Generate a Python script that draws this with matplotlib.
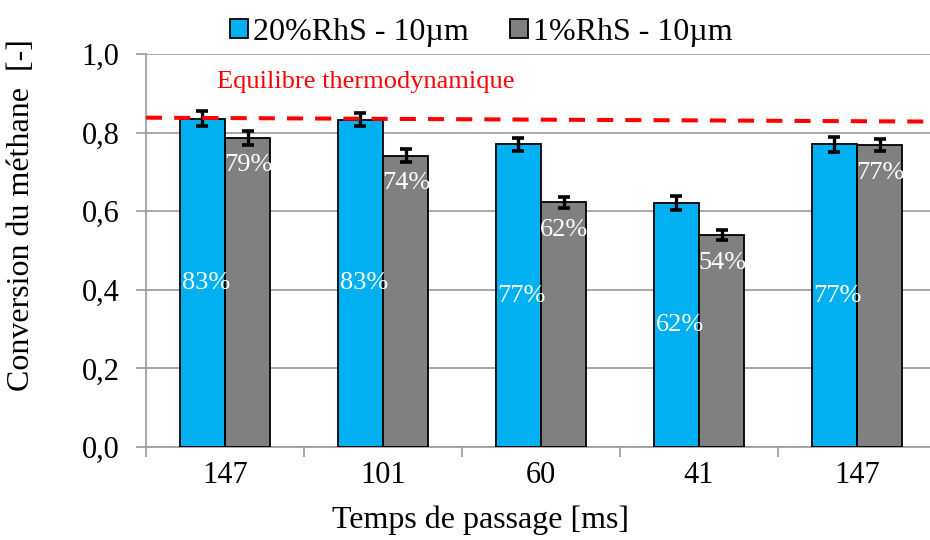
import numpy as np
import matplotlib
matplotlib.use("Agg")
import matplotlib.pyplot as plt

plt.rcParams['font.family'] = ['Liberation Serif', 'DejaVu Serif']

categories = ["147", "101", "60", "41", "147"]
rhs20 = [0.835, 0.833, 0.770, 0.620, 0.770]
rhs1 = [0.787, 0.741, 0.623, 0.539, 0.768]
err20 = [0.019, 0.017, 0.016, 0.018, 0.020]
err1 = [0.018, 0.016, 0.014, 0.013, 0.016]
labels20 = ["83%", "83%", "77%", "62%", "77%"]
labels1 = ["79%", "74%", "62%", "54%", "77%"]
equil = [0.838, 0.828]  # ligne d'equilibre (gauche, droite)

blue = "#00B0F0"
grey = "#808080"
axcol = "#A0A0A0"

fig = plt.figure(figsize=(9.3, 5.4), dpi=100)
ax = fig.add_axes([146/930, 93/540, 790/930, 393/540])

x = np.arange(len(categories))
w = 0.285
ekw = dict(elinewidth=2.4, capthick=2.6, capsize=4.5, ecolor="black")
ax.bar(x - w/2, rhs20, w, color=blue, edgecolor="black", linewidth=1.3,
       yerr=err20, error_kw=ekw, label="20%RhS - 10µm", zorder=3)
ax.bar(x + w/2, rhs1, w, color=grey, edgecolor="black", linewidth=1.3,
       yerr=err1, error_kw=ekw, label="1%RhS - 10µm", zorder=3)

for i in range(len(x)):
    ax.text(x[i] - w/2 + 0.02, rhs20[i]/2, labels20[i], color="white",
            fontsize=19, ha="center", va="center", zorder=4)
    ax.text(x[i] + w/2 + 0.005, rhs1[i] - 0.07, labels1[i], color="white",
            fontsize=19, ha="center", va="center", zorder=4)

ax.plot([-0.5, 4.5], equil, color="#FF0000", lw=2.9, dashes=(4, 3), zorder=5)
ax.text(-0.05, 0.93, "Equilibre thermodynamique", color="#FF0000",
        fontsize=19, ha="left", va="center")

ax.set_xlim(-0.5, 4.5)
ax.set_ylim(0, 1.0)
ax.set_yticks(np.arange(0, 1.01, 0.2))
ax.set_yticklabels([f"{v:.1f}".replace(".", ",") for v in np.arange(0, 1.01, 0.2)])
ax.yaxis.grid(True, color=axcol, lw=1.3, zorder=0)

ax.set_xticks(np.arange(-0.5, 4.6, 1.0))
ax.set_xticklabels([])
ax.set_xticks(x, minor=True)
ax.set_xticklabels(categories, minor=True)
ax.tick_params(axis="x", which="major", length=7, width=1.3, color=axcol)
ax.tick_params(axis="x", which="minor", length=0, pad=10, labelsize=22)
ax.tick_params(axis="y", length=7, width=1.3, color=axcol, pad=12, labelsize=22)

for s in ["top", "right"]:
    ax.spines[s].set_visible(False)
for s in ["left", "bottom"]:
    ax.spines[s].set_color(axcol)
    ax.spines[s].set_linewidth(1.3)

fig.text(480/930, 1 - 520/540, "Temps de passage [ms]", fontsize=23,
         ha="center", va="center")
fig.text(22/930, 1 - 215/540, "Conversion du méthane  [-]", fontsize=23,
         rotation=90, ha="center", va="center")

fig.legend(loc="upper center", bbox_to_anchor=(481/930, 1.02), ncol=2,
           frameon=False, fontsize=23, handlelength=0.56, handleheight=0.56,
           handletextpad=0.15, columnspacing=1.3)

fig.savefig("out.png", dpi=100)
